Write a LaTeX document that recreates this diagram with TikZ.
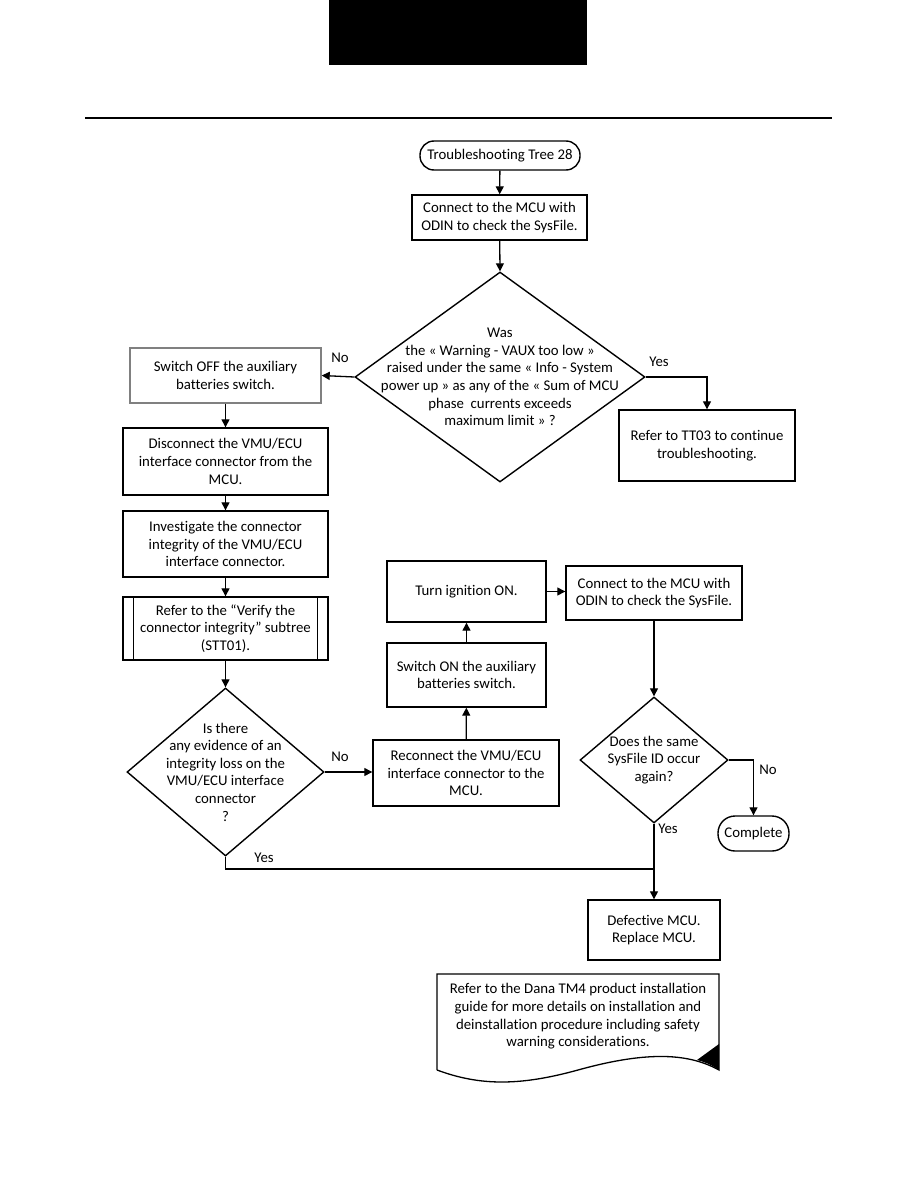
\documentclass[tikz,border=0pt]{standalone}
\usepackage{fontspec}
\setmainfont{Carlito}[Ligatures=NoCommon]
\usetikzlibrary{arrows.meta,shapes.geometric}
\begin{document}
\begin{tikzpicture}[x=1pt,y=-1pt,
  every node/.style={font=\fontsize{14.8}{17.6}\selectfont, align=center, inner sep=0pt},
  box/.style={draw, line width=1.4pt},
  term/.style={draw, line width=1.4pt, rounded corners=14pt},
  dia/.style={draw, line width=1.4pt, diamond, inner sep=0pt},
  arr/.style={line width=1.3pt, -{Triangle[length=8pt,width=8pt]}},
  conn/.style={line width=1.3pt},
  lbl/.style={font=\fontsize{14.8}{17}\selectfont}]
\useasboundingbox (0,0) rectangle (918,1188);
% header
\fill (329,0) rectangle (587,65.5);
\draw[line width=2.2pt] (85,118) -- (832,118);
% nodes
\node[term, minimum width=160pt, minimum height=29pt] (start) at (500,155.5) {Troubleshooting Tree 28};
\node[box, minimum width=175pt, minimum height=45pt] (c1) at (499.5,217.5) {Connect to the MCU with\\ODIN to check the SysFile.};
\node[dia, minimum width=290pt, minimum height=210pt] (d1) at (500,377) {};
\node (d1t) at (500,377) {Was\\the « Warning - VAUX too low »\\raised under the same « Info - System\\power up » as any of the « Sum of MCU\\phase\ \ currents exceeds\\maximum limit » ?};
\node[box, draw=gray, minimum width=191pt, minimum height=55pt] (off) at (225.5,375.5) {Switch OFF the auxiliary\\batteries switch.};
\node[box, minimum width=176pt, minimum height=71pt] (tt03) at (707,445.5) {Refer to TT03 to continue\\troubleshooting.};
\node[box, minimum width=205pt, minimum height=67pt] (disc) at (225.5,461.5) {Disconnect the VMU/ECU\\interface connector from the\\MCU.};
\node[box, minimum width=205pt, minimum height=66pt] (inv) at (225.5,544) {Investigate the connector\\integrity of the VMU/ECU\\interface connector.};
\node[box, minimum width=205pt, minimum height=63pt] (sub) at (225.5,628.5) {Refer to the “Verify the\\connector integrity” subtree\\(STT01).};
\draw[line width=1.4pt] ([xshift=11pt]sub.north west) -- ([xshift=11pt]sub.south west);
\draw[line width=1.4pt] ([xshift=-11pt]sub.north east) -- ([xshift=-11pt]sub.south east);
\node[dia, minimum width=197pt, minimum height=168pt] (d2) at (225.5,772) {};
\node (d2t) at (225.5,772) {Is there\\any evidence of an\\integrity loss on the\\VMU/ECU interface\\connector\\?};
\node[box, minimum width=186pt, minimum height=66pt] (rec) at (466,773) {Reconnect the VMU/ECU\\interface connector to the\\MCU.};
\node[box, minimum width=159pt, minimum height=64pt] (son) at (466.5,675) {Switch ON the auxiliary\\batteries switch.};
\node[box, minimum width=159pt, minimum height=61pt] (ign) at (466.5,591.5) {Turn ignition ON.};
\node[box, minimum width=176pt, minimum height=54pt] (c2) at (654,593) {Connect to the MCU with\\ODIN to check the SysFile.};
\node[dia, minimum width=148pt, minimum height=126pt] (d3) at (654,760) {};
\node (d3t) at (654,760) {Does the same\\SysFile ID occur\\again?};
\node[term, rounded corners=17pt, minimum width=71pt, minimum height=35pt] (comp) at (753.5,833.5) {Complete};
\node[box, minimum width=132pt, minimum height=60pt] (def) at (654,930) {Defective MCU.\\Replace MCU.};
% document shape
\coordinate (dtl) at (437,974);
\coordinate (dtr) at (719,974);
\coordinate (dbr) at (719,1070);
\coordinate (dbl) at (437,1070);
\draw[line width=1.3pt] (dbl) -- (dtl) -- (dtr) -- (dbr)
  .. controls (690,1054) and (650,1050) .. (578,1070)
  .. controls (520,1086) and (480,1086) .. (dbl);
\fill (719,1044) -- (dbr) .. controls (712,1065) and (705,1062) .. (697,1060) -- cycle;
\node (doc) at (578,1016.5) {Refer to the Dana TM4 product installation\\guide for more details on installation and\\deinstallation procedure including safety\\warning considerations.};
% connectors
\draw[arr] (start) -- (c1);
\draw[arr] (c1) -- (d1.north);
\draw[arr] (d1.west) -- (off.east);
\node[lbl] (no1) at (340,358) {No};
\draw[arr] (d1.east) -| (tt03.north);
\node[lbl] (yes1) at (659,362) {Yes};
\draw[arr] (off) -- (disc);
\draw[arr] (disc) -- (inv);
\draw[arr] (inv) -- (sub);
\draw[arr] (sub) -- (d2.north);
\draw[arr] (d2.east) -- (d2.east -| rec.west);
\node[lbl] (no2) at (340,757) {No};
\draw[arr] (rec) -- (son);
\draw[arr] (son) -- (ign);
\draw[arr] (ign.east) -- (ign.east -| c2.west);
\draw[arr] (c2) -- (d3.north);
\draw[arr] (d3.east) -| (comp.north);
\node[lbl] (no3) at (768,770) {No};
\draw[arr] (d3.south) -- (def.north);
\node[lbl] (yes3) at (668,829) {Yes};
\coordinate (j) at (654,869);
\draw[conn] (d2.south) |- (j);
\node[lbl] (yes2) at (264,858) {Yes};
\end{tikzpicture}
\end{document}
